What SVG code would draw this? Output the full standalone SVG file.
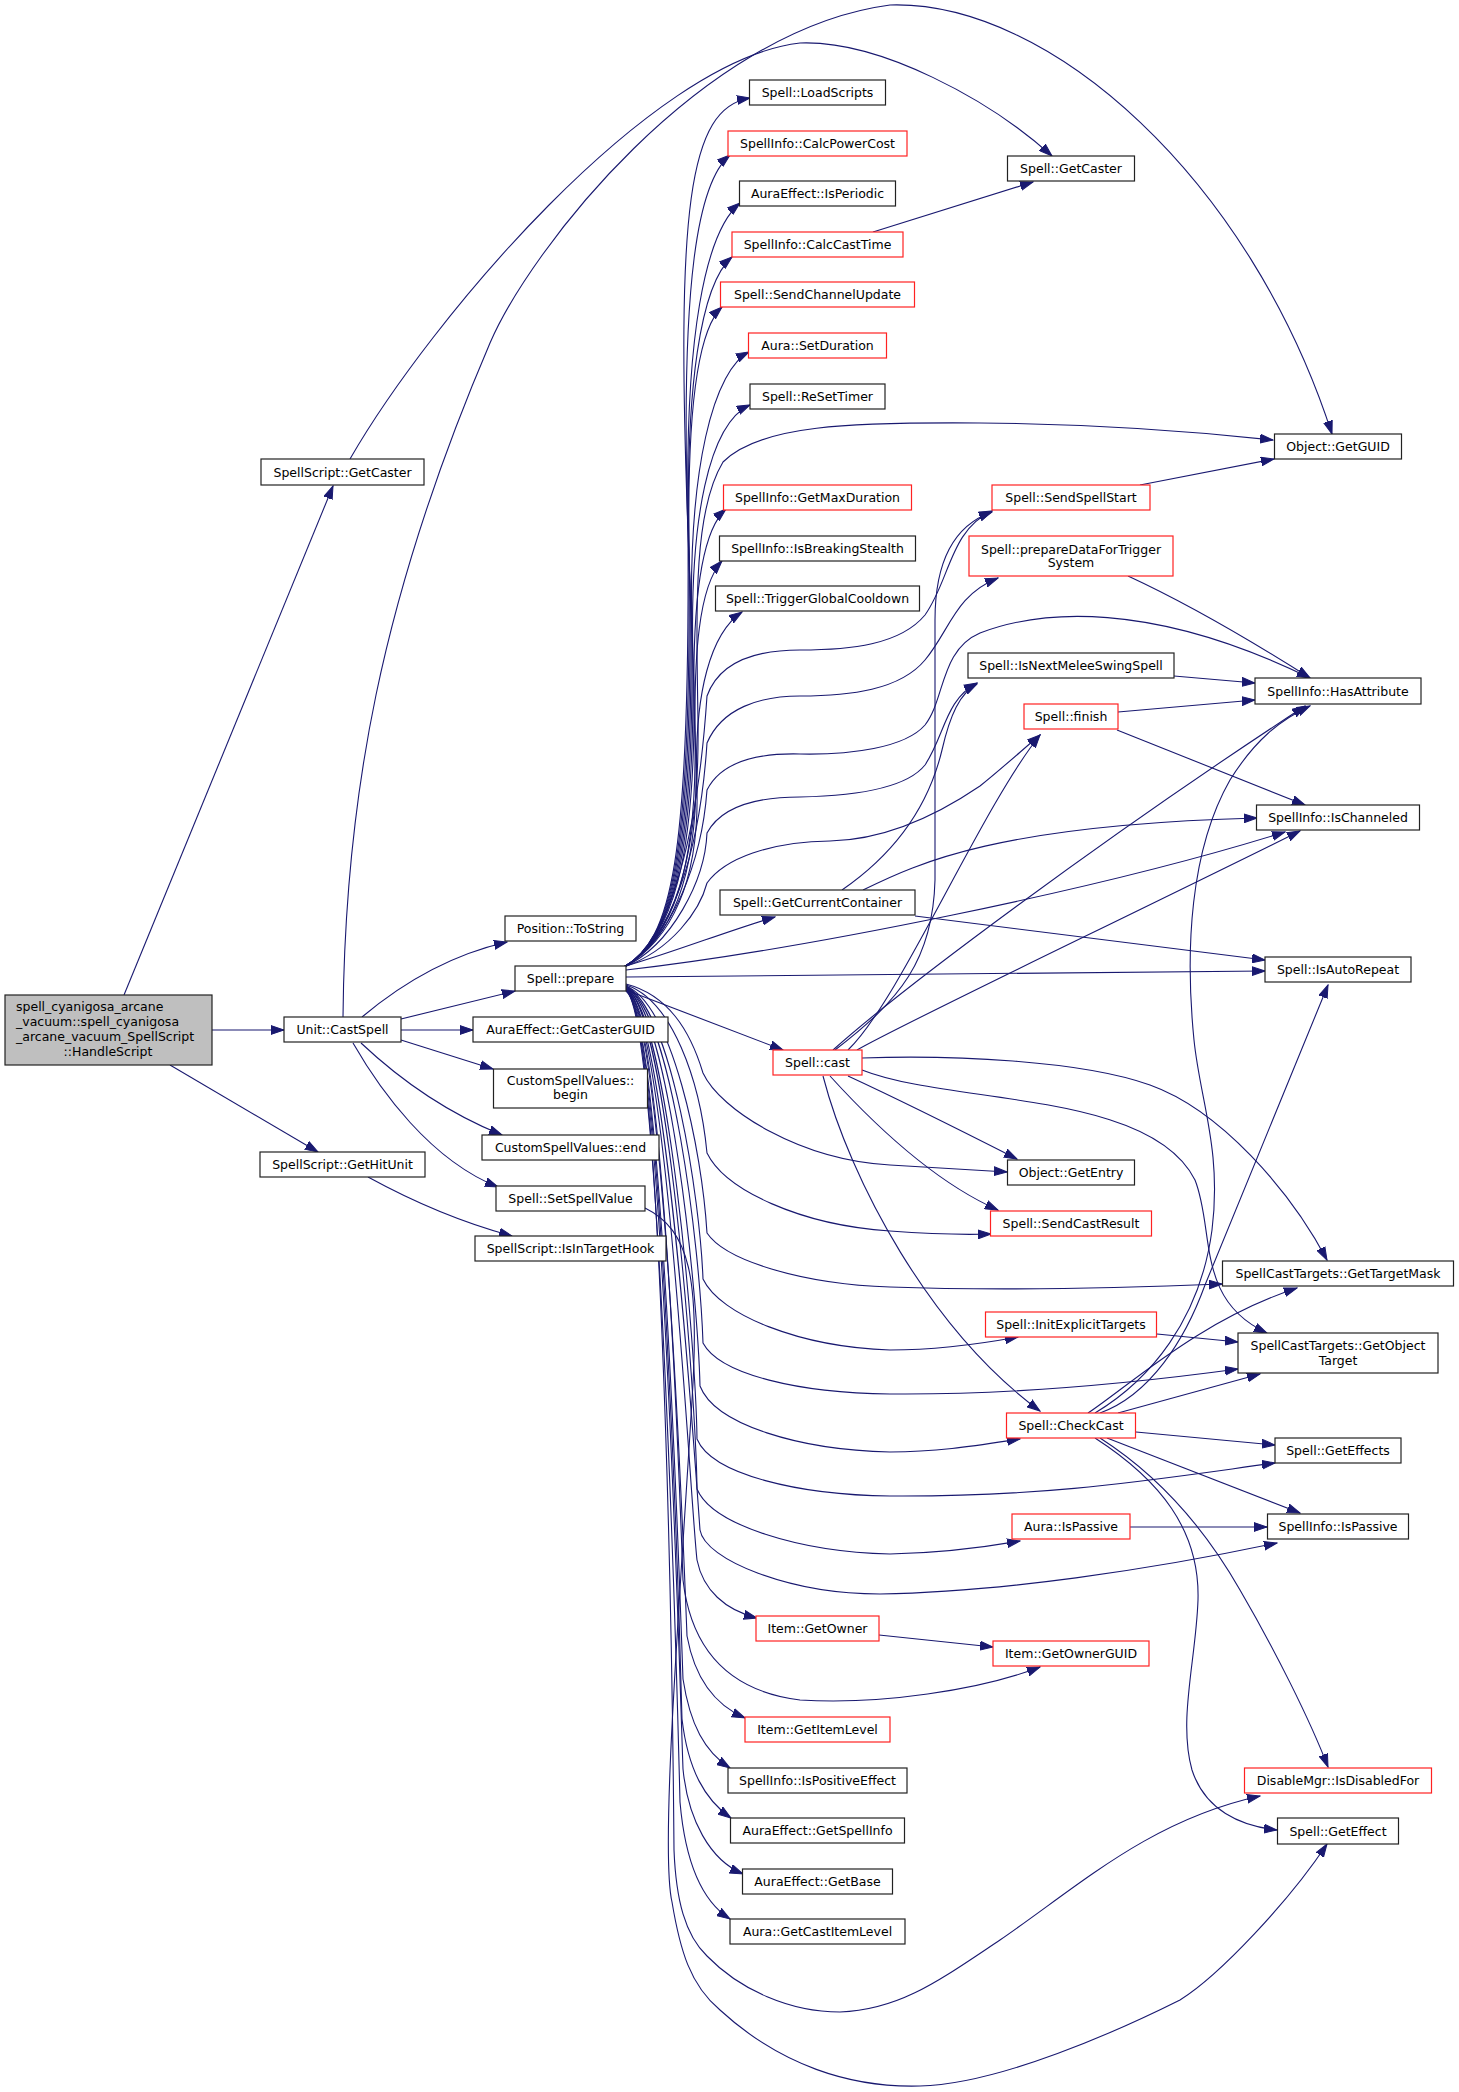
<svg xmlns="http://www.w3.org/2000/svg" width="1459" height="2092" viewBox="0 0 1459 2092">
<style>
.n rect{fill:#fff;stroke:#222;stroke-width:1.2}
.r rect{stroke:#f22}
.m rect{fill:#bfbfbf}
text{font-family:"DejaVu Sans","Liberation Sans",sans-serif;font-size:12.5px;fill:#000;text-anchor:middle}
.l{text-anchor:start}
#edges path{fill:none;stroke:#191970;stroke-width:1.1;marker-end:url(#a)}
</style>
<defs>
<marker id="a" markerWidth="14" markerHeight="10" refX="13" refY="5" orient="auto" markerUnits="userSpaceOnUse"><path d="M0,0.6 L13,5 L0,9.4 z" fill="#191970" stroke="#191970" stroke-width="1"/></marker>
</defs>
<rect width="1459" height="2092" fill="#fff"/>
<g id="edges">
<path d="M124,995 L333,486"/>
<path d="M212,1030 L284,1030"/>
<path d="M170,1065 L318,1152"/>
<path d="M350,459 C430,320 650,60 800,43 C880,40 990,100 1052,156"/>
<path d="M343,1017 C345,800 380,600 490,343 C530,250 700,30 890,5 C1050,0 1250,180 1332,434"/>
<path d="M362,1017 C400,985 450,955 507,942"/>
<path d="M401,1019 L515,991"/>
<path d="M401,1030 L473,1030"/>
<path d="M401,1040 L493,1069"/>
<path d="M361,1043 C395,1075 440,1110 502,1135"/>
<path d="M353,1043 C380,1090 430,1160 498,1187"/>
<path d="M368,1177 C410,1200 460,1222 512,1236"/>
<path d="M873,232 L1033,182"/>
<path d="M1140,485 L1274,459"/>
<path d="M1128,576 C1180,600 1250,640 1310,678"/>
<path d="M1174,676 L1255,683"/>
<path d="M1118,712 L1255,700"/>
<path d="M1117,730 L1305,805"/>
<path d="M1130,1527 L1267,1527"/>
<path d="M1157,1334 L1238,1342"/>
<path d="M879,1635 L993,1647"/>
<path d="M624,967 C672,940 690,860 688,532 C676,210 688,108 750,98"/>
<path d="M624,967 C672,940 691,860 689,561 C678,270 700,180 730,155"/>
<path d="M624,967 C672,940 692,860 690,585 C679,320 710,228 740,203"/>
<path d="M624,967 C672,940 693,860 691,612 C680,370 705,280 732,257"/>
<path d="M624,967 C672,940 694,860 692,637 C682,420 697,330 722,307"/>
<path d="M624,967 C672,940 695,860 693,660 C684,460 717,368 749,352"/>
<path d="M624,967 C672,940 696,860 694,686 C686,510 712,422 750,405"/>
<path d="M624,967 C672,940 697,870 695,738 C690,600 702,530 726,509"/>
<path d="M624,967 C672,940 698,875 696,764 C692,650 700,585 722,561"/>
<path d="M624,967 C672,940 699,880 697,790 C693,690 712,632 742,612"/>
<path d="M624,967 C672,940 700,860 698,720 C696,600 694,510 723,462 C760,425 850,422 980,423 C1100,424 1200,432 1273,440"/>
<path d="M624,967 C672,940 698,830 707,696 C720,660 760,650 800,650 C850,650 900,645 925,615 C950,580 950,530 992,511"/>
<path d="M624,967 C672,940 700,850 707,743 C722,708 760,696 800,696 C850,696 900,690 925,660 C950,630 955,595 998,578"/>
<path d="M624,967 C672,940 702,860 707,790 C722,760 760,753 800,754 C850,755 905,748 925,725 C945,700 940,650 980,633 C1040,610 1150,600 1310,678"/>
<path d="M624,967 C672,945 705,880 707,833 C722,805 760,797 800,797 C850,796 905,790 925,765 C945,735 945,700 977,683"/>
<path d="M624,967 C672,950 700,910 707,883 C725,858 770,842 830,841 C880,840 930,820 980,786 C1000,770 1020,752 1040,735"/>
<path d="M626,970 C800,950 1100,890 1285,832"/>
<path d="M626,977 L1265,971"/>
<path d="M626,966 C680,950 730,930 775,917"/>
<path d="M626,990 L783,1050"/>
<path d="M835,1050 C900,1000 933,960 935,880 L935,620 C935,560 955,525 992,512"/>
<path d="M842,890 C900,850 930,800 942,750 C950,715 960,693 977,684"/>
<path d="M848,1050 C900,1000 980,810 1040,735"/>
<path d="M833,1050 C900,990 1100,840 1305,706"/>
<path d="M857,1050 C900,1025 1100,930 1300,831"/>
<path d="M863,890 C920,862 1000,825 1257,818"/>
<path d="M915,916 L1265,960"/>
<path d="M823,1076 C850,1180 930,1330 1040,1411"/>
<path d="M830,1076 C870,1120 930,1180 998,1210"/>
<path d="M848,1076 C900,1100 960,1130 1017,1159"/>
<path d="M862,1070 C950,1105 1150,1090 1195,1180 C1215,1230 1195,1300 1267,1333"/>
<path d="M862,1058 C950,1055 1080,1060 1150,1085 C1220,1110 1290,1190 1327,1260"/>
<path d="M626,984 C668,995 690,1030 703,1073 C720,1110 800,1160 890,1165 C940,1168 975,1170 1007,1172"/>
<path d="M626,985 C672,1000 700,1080 707,1153 C725,1190 800,1225 890,1231 C930,1234 960,1235 991,1234"/>
<path d="M626,986 C672,1005 702,1150 707,1233 C725,1260 800,1284 890,1287 C1000,1291 1100,1289 1222,1284"/>
<path d="M626,986 C672,1010 700,1200 703,1279 C720,1315 800,1347 890,1350 C940,1350 980,1344 1018,1337"/>
<path d="M626,987 C672,1010 700,1250 703,1343 C720,1375 800,1393 890,1394 C1000,1395 1120,1385 1238,1369"/>
<path d="M626,987 C670,1010 698,1300 700,1386 C715,1425 800,1450 890,1452 C940,1452 980,1445 1020,1439"/>
<path d="M626,988 C668,1010 696,1350 697,1439 C712,1475 800,1495 890,1496 C1050,1497 1150,1480 1275,1463"/>
<path d="M626,988 C668,1010 696,1400 697,1489 C712,1525 800,1552 890,1554 C940,1553 980,1548 1020,1541"/>
<path d="M626,989 C666,1010 694,1450 700,1530 C705,1560 790,1594 880,1594 C1000,1592 1150,1570 1277,1543"/>
<path d="M626,989 C666,1010 690,1500 697,1560 C703,1590 725,1610 757,1618"/>
<path d="M626,989 C664,1010 680,1500 683,1580 C690,1640 720,1690 800,1700 C880,1705 980,1690 1040,1667"/>
<path d="M626,990 C664,1010 684,1560 687,1636 C695,1680 715,1705 745,1718"/>
<path d="M626,990 C662,1010 680,1600 683,1679 C690,1725 705,1752 730,1768"/>
<path d="M626,990 C662,1010 680,1640 682,1719 C688,1770 705,1800 731,1818"/>
<path d="M626,991 C662,1012 680,1690 683,1769 C688,1820 710,1860 743,1874"/>
<path d="M626,991 C660,1012 678,1720 680,1802 C685,1860 700,1900 730,1919"/>
<path d="M626,991 C660,1012 672,1600 674,1850 C676,1900 685,1935 707,1956 C740,1990 790,2012 840,2012 C900,2010 940,1980 1000,1940 C1080,1885 1150,1820 1260,1796"/>
<path d="M645,1208 C690,1230 700,1280 692,1400 C680,1600 660,1850 672,1902 C680,1950 690,1985 720,2010 C780,2065 850,2088 920,2086 C1000,2084 1120,2030 1180,2000 C1220,1975 1290,1900 1327,1844"/>
<path d="M1095,1413 C1150,1380 1200,1320 1212,1230 C1222,1150 1200,1100 1194,1040 C1185,950 1190,850 1230,780 C1255,740 1280,720 1310,706"/>
<path d="M1100,1413 C1150,1395 1185,1340 1205,1285 L1328,985"/>
<path d="M1088,1413 C1130,1385 1200,1320 1297,1288"/>
<path d="M1118,1413 L1260,1374"/>
<path d="M1136,1432 L1275,1445"/>
<path d="M1107,1438 L1300,1513"/>
<path d="M1100,1438 C1150,1470 1200,1520 1240,1590 C1275,1650 1310,1720 1328,1767"/>
<path d="M1095,1438 C1160,1480 1200,1530 1198,1600 C1196,1660 1178,1720 1192,1770 C1205,1810 1240,1826 1277,1830"/>
</g>
<g id="n_main" class="n m"><rect x="5" y="995" width="207" height="70"/><text class="l" x="16" y="1010.5">spell_cyanigosa_arcane</text><text class="l" x="16" y="1025.5">_vacuum::spell_cyanigosa</text><text class="l" x="16" y="1040.5">_arcane_vacuum_SpellScript</text><text x="108" y="1055.5">::HandleScript</text></g>
<g id="n_ssgetcaster" class="n"><rect x="261" y="459" width="163" height="26"/><text x="342.5" y="476.5">SpellScript::GetCaster</text></g>
<g id="n_castspell" class="n"><rect x="284" y="1017" width="117" height="25"/><text x="342.5" y="1034">Unit::CastSpell</text></g>
<g id="n_gethitunit" class="n"><rect x="260" y="1152" width="165" height="25"/><text x="342.5" y="1169">SpellScript::GetHitUnit</text></g>
<g id="n_tostring" class="n"><rect x="505" y="916" width="131" height="25"/><text x="570.5" y="933">Position::ToString</text></g>
<g id="n_prepare" class="n"><rect x="515" y="966" width="111" height="25"/><text x="570.5" y="983">Spell::prepare</text></g>
<g id="n_getcasterguid" class="n"><rect x="473" y="1017" width="195" height="25"/><text x="570.5" y="1034">AuraEffect::GetCasterGUID</text></g>
<g id="n_begin" class="n"><rect x="493.5" y="1069" width="154" height="39"/><text x="570.5" y="1084.5">CustomSpellValues::</text><text x="570.5" y="1098.5">begin</text></g>
<g id="n_end" class="n"><rect x="482" y="1135" width="177" height="25"/><text x="570.5" y="1152">CustomSpellValues::end</text></g>
<g id="n_setspellvalue" class="n"><rect x="496" y="1186" width="149" height="25"/><text x="570.5" y="1203">Spell::SetSpellValue</text></g>
<g id="n_isintargethook" class="n"><rect x="475" y="1236" width="191" height="25"/><text x="570.5" y="1253">SpellScript::IsInTargetHook</text></g>
<g id="n_loadscripts" class="n"><rect x="749.5" y="80" width="136" height="25"/><text x="817.5" y="97">Spell::LoadScripts</text></g>
<g id="n_calcpowercost" class="n r"><rect x="728" y="131" width="179" height="25"/><text x="817.5" y="148">SpellInfo::CalcPowerCost</text></g>
<g id="n_isperiodic" class="n"><rect x="739.5" y="181" width="156" height="25"/><text x="817.5" y="198">AuraEffect::IsPeriodic</text></g>
<g id="n_calccasttime" class="n r"><rect x="732" y="232" width="171" height="25"/><text x="817.5" y="249">SpellInfo::CalcCastTime</text></g>
<g id="n_sendchannelupdate" class="n r"><rect x="720.5" y="282" width="194" height="25"/><text x="817.5" y="299">Spell::SendChannelUpdate</text></g>
<g id="n_setduration" class="n r"><rect x="748.5" y="333" width="138" height="25"/><text x="817.5" y="350">Aura::SetDuration</text></g>
<g id="n_resettimer" class="n"><rect x="750" y="384" width="135" height="25"/><text x="817.5" y="401">Spell::ReSetTimer</text></g>
<g id="n_getmaxduration" class="n r"><rect x="723.5" y="485" width="188" height="25"/><text x="817.5" y="502">SpellInfo::GetMaxDuration</text></g>
<g id="n_isbreakingstealth" class="n"><rect x="719.5" y="536" width="196" height="25"/><text x="817.5" y="553">SpellInfo::IsBreakingStealth</text></g>
<g id="n_triggergcd" class="n"><rect x="715.5" y="586" width="204" height="25"/><text x="817.5" y="603">Spell::TriggerGlobalCooldown</text></g>
<g id="n_getcurrentcontainer" class="n"><rect x="720" y="890" width="195" height="25"/><text x="817.5" y="907">Spell::GetCurrentContainer</text></g>
<g id="n_cast" class="n r"><rect x="773" y="1050" width="89" height="25"/><text x="817.5" y="1067">Spell::cast</text></g>
<g id="n_getowner" class="n r"><rect x="756" y="1616" width="123" height="25"/><text x="817.5" y="1633">Item::GetOwner</text></g>
<g id="n_getitemlevel" class="n r"><rect x="745" y="1717" width="145" height="25"/><text x="817.5" y="1734">Item::GetItemLevel</text></g>
<g id="n_ispositiveeffect" class="n"><rect x="728" y="1768" width="179" height="25"/><text x="817.5" y="1785">SpellInfo::IsPositiveEffect</text></g>
<g id="n_getspellinfo" class="n"><rect x="730.5" y="1818" width="174" height="25"/><text x="817.5" y="1835">AuraEffect::GetSpellInfo</text></g>
<g id="n_getbase" class="n"><rect x="742.5" y="1869" width="150" height="25"/><text x="817.5" y="1886">AuraEffect::GetBase</text></g>
<g id="n_getcastitemlevel" class="n"><rect x="730" y="1919" width="175" height="25"/><text x="817.5" y="1936">Aura::GetCastItemLevel</text></g>
<g id="n_spellgetcaster" class="n"><rect x="1007.5" y="156" width="127" height="25"/><text x="1071" y="173">Spell::GetCaster</text></g>
<g id="n_sendspellstart" class="n r"><rect x="992" y="485" width="158" height="25"/><text x="1071" y="502">Spell::SendSpellStart</text></g>
<g id="n_preparedata" class="n r"><rect x="969" y="536" width="204" height="40"/><text x="1071" y="553.5">Spell::prepareDataForTrigger</text><text x="1071" y="566.5">System</text></g>
<g id="n_isnextmelee" class="n"><rect x="968" y="653" width="206" height="25"/><text x="1071" y="670">Spell::IsNextMeleeSwingSpell</text></g>
<g id="n_finish" class="n r"><rect x="1024" y="704" width="94" height="25"/><text x="1071" y="721">Spell::finish</text></g>
<g id="n_getentry" class="n"><rect x="1007.5" y="1160" width="127" height="25"/><text x="1071" y="1177">Object::GetEntry</text></g>
<g id="n_sendcastresult" class="n r"><rect x="990.5" y="1211" width="161" height="25"/><text x="1071" y="1228">Spell::SendCastResult</text></g>
<g id="n_initexplicit" class="n r"><rect x="985.5" y="1312" width="171" height="25"/><text x="1071" y="1329">Spell::InitExplicitTargets</text></g>
<g id="n_checkcast" class="n r"><rect x="1006.5" y="1413" width="129" height="25"/><text x="1071" y="1430">Spell::CheckCast</text></g>
<g id="n_aurapassive" class="n r"><rect x="1012" y="1514" width="118" height="25"/><text x="1071" y="1531">Aura::IsPassive</text></g>
<g id="n_getownerguid" class="n r"><rect x="993" y="1641" width="156" height="25"/><text x="1071" y="1658">Item::GetOwnerGUID</text></g>
<g id="n_getguid" class="n"><rect x="1274.5" y="434" width="127" height="25"/><text x="1338" y="451">Object::GetGUID</text></g>
<g id="n_hasattribute" class="n"><rect x="1255" y="678" width="166" height="26"/><text x="1338" y="695.5">SpellInfo::HasAttribute</text></g>
<g id="n_ischanneled" class="n"><rect x="1256.5" y="805" width="163" height="25"/><text x="1338" y="822">SpellInfo::IsChanneled</text></g>
<g id="n_isautorepeat" class="n"><rect x="1265" y="957" width="146" height="25"/><text x="1338" y="974">Spell::IsAutoRepeat</text></g>
<g id="n_gettargetmask" class="n"><rect x="1222.5" y="1261" width="231" height="25"/><text x="1338" y="1278">SpellCastTargets::GetTargetMask</text></g>
<g id="n_getobjecttarget" class="n"><rect x="1238" y="1333" width="200" height="40"/><text x="1338" y="1349.5">SpellCastTargets::GetObject</text><text x="1338" y="1364.5">Target</text></g>
<g id="n_geteffects" class="n"><rect x="1275" y="1438" width="126" height="25"/><text x="1338" y="1455">Spell::GetEffects</text></g>
<g id="n_infopassive" class="n"><rect x="1267.5" y="1514" width="141" height="25"/><text x="1338" y="1531">SpellInfo::IsPassive</text></g>
<g id="n_disabledfor" class="n r"><rect x="1244.5" y="1768" width="187" height="25"/><text x="1338" y="1785">DisableMgr::IsDisabledFor</text></g>
<g id="n_geteffect" class="n"><rect x="1277.5" y="1818" width="121" height="26"/><text x="1338" y="1835.5">Spell::GetEffect</text></g>
</svg>
